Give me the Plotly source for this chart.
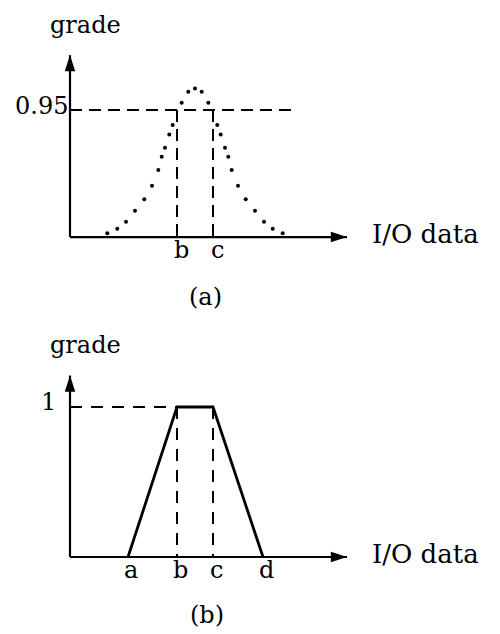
import plotly.graph_objects as go

# ---- data (arbitrary units) ----
# panel (a): bell-shaped (dotted) membership function
gauss_x = [3.73, 4.73, 5.6, 6.5, 7.43, 8.2, 8.83, 9.17, 9.5, 9.93, 10.27, 11.17, 11.83, 12.5,
           13.17, 13.83, 14.73, 15.07, 15.5, 15.83, 16.17, 16.8, 17.57, 18.5, 19.4, 20.27, 21.27]
gauss_y = [0.028, 0.062, 0.114, 0.197, 0.282, 0.383, 0.501, 0.600, 0.667, 0.767, 0.837, 1.004, 1.086, 1.111,
           1.086, 1.004, 0.837, 0.767, 0.667, 0.600, 0.501, 0.383, 0.282, 0.197, 0.114, 0.062, 0.028]
level_a = 0.95
b_a, c_a = 10.7, 14.3
labels_a = ["b", "c"]

# panel (b): trapezoidal membership function
trap_x = [5.8, 10.7, 14.3, 19.3]
trap_y = [0, 1, 1, 0]
level_b = 1
labels_b = ["a", "b", "c", "d"]

axis_x_end = 27.7
axis_y_end_a = 1.36
axis_y_end_b = 1.21

FONT = "DejaVu Serif"
FS = 24

fig = go.Figure()

def axes(xa, ya, yend):
    fig.add_trace(go.Scatter(x=[0, axis_x_end], y=[0, 0], mode="lines",
                             line=dict(color="black", width=2.2), xaxis=xa, yaxis=ya, hoverinfo="skip"))
    fig.add_trace(go.Scatter(x=[0, 0], y=[0, yend], mode="lines",
                             line=dict(color="black", width=2.2), xaxis=xa, yaxis=ya, hoverinfo="skip"))
    fig.add_trace(go.Scatter(x=[axis_x_end, 0], y=[0, yend], mode="markers",
                             marker=dict(symbol="arrow", size=17, color="black", angle=[90, 0],
                                         line=dict(width=0)),
                             xaxis=xa, yaxis=ya, hoverinfo="skip"))

dash = dict(color="black", width=2, dash="12px,7px")

# ---- panel (a) ----
axes("x", "y", axis_y_end_a)
fig.add_trace(go.Scatter(x=[0, 22.3], y=[level_a, level_a], mode="lines", line=dash,
                         xaxis="x", yaxis="y", hoverinfo="skip"))
for v in (b_a, c_a):
    fig.add_trace(go.Scatter(x=[v, v], y=[level_a, 0], mode="lines", line=dash,
                             xaxis="x", yaxis="y", hoverinfo="skip"))
fig.add_trace(go.Scatter(x=gauss_x, y=gauss_y, mode="markers",
                         marker=dict(size=4, color="black"), xaxis="x", yaxis="y", hoverinfo="skip"))

# ---- panel (b) ----
axes("x2", "y2", axis_y_end_b)
dash_b = dict(color="black", width=2, dash="12px,9px")
fig.add_trace(go.Scatter(x=[0, trap_x[1]], y=[level_b, level_b], mode="lines", line=dash_b,
                         xaxis="x2", yaxis="y2", hoverinfo="skip"))
for v in (trap_x[1], trap_x[2]):
    fig.add_trace(go.Scatter(x=[v, v], y=[level_b, 0], mode="lines", line=dash_b,
                             xaxis="x2", yaxis="y2", hoverinfo="skip"))
fig.add_trace(go.Scatter(x=trap_x, y=trap_y, mode="lines",
                         line=dict(color="black", width=2.8), xaxis="x2", yaxis="y2", hoverinfo="skip"))

# ---- text ----
ann = []
def txt(x, y, t, xr, yr, xanchor="center", yanchor="middle", xshift=0, yshift=0, size=FS):
    ann.append(dict(x=x, y=y, xref=xr, yref=yr, text=t, showarrow=False,
                    xanchor=xanchor, yanchor=yanchor, xshift=xshift, yshift=yshift,
                    font=dict(family=FONT, size=size, color="black")))

txt(1.5, 1.586, "grade", "x", "y")
txt(0, level_a, "0.95", "x", "y", xanchor="right", yshift=4)
for lab, v in zip(labels_a, (b_a, c_a)):
    txt(v, 0, lab, "x", "y", xshift=4, yshift=-13)
txt(30, 0, "I/O data", "x", "y", xanchor="left", yshift=3, size=26)
txt(13.5, -0.449, "(a)", "x", "y")

txt(1.5, 1.413, "grade", "x2", "y2")
txt(0, level_b, "1", "x2", "y2", xanchor="right", xshift=-12, yshift=5)
for lab, v in zip(labels_b, trap_x):
    txt(v, 0, lab, "x2", "y2", xshift=3, yshift=-13)
txt(30, 0, "I/O data", "x2", "y2", xanchor="left", yshift=3, size=26)
txt(13.7, -0.387, "(b)", "x2", "y2")

# ranges compensate for the 8px page body margin
hid = dict(visible=False, showgrid=False, zeroline=False, fixedrange=True)
fig.update_layout(
    width=500, height=634,
    margin=dict(l=0, r=0, t=0, b=0),
    paper_bgcolor="white", plot_bgcolor="white",
    showlegend=False,
    xaxis=dict(domain=[0, 1], range=[-6.2, 43.8], **hid),
    yaxis=dict(domain=[0.5, 1], range=[-0.658, 1.713], **hid),
    xaxis2=dict(domain=[0, 1], range=[-6.2, 43.8], anchor="y2", **hid),
    yaxis2=dict(domain=[0, 0.5], range=[-0.567, 1.547], anchor="x2", **hid),
    annotations=ann,
)

fig.write_html("out.html")
